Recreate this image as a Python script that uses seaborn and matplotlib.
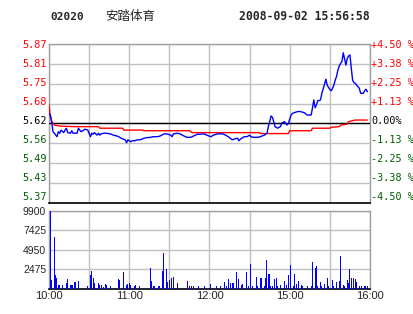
import numpy as np
import matplotlib
matplotlib.use("Agg")
import matplotlib.pyplot as plt
import seaborn as sns

# ---------------- data ----------------
code = "02020"
name = "安踏体育"
stamp = "2008-09-02 15:56:58"
prev_close = 5.62

# trading minutes after 10:00 (12:30 -> 150, then 14:30 continues at 150)
price_min = [0, 1, 2, 3, 4, 6, 7, 8, 9, 11, 12, 13, 14, 16, 17, 18, 21, 22, 23, 24,
             26, 27, 29, 31, 32, 33, 34, 36, 37, 38, 39, 41, 43, 46, 48, 51, 53, 54, 57, 58,
             59, 61, 62, 64, 66, 68, 71, 73, 76, 78, 81, 83, 86, 88, 91, 92, 93, 96, 98, 101,
             103, 106, 108, 111, 113, 116, 118, 121, 123, 126, 128, 130, 132, 134, 137, 138, 141, 142, 143, 146,
             148, 150, 151, 153, 156, 158, 161, 163, 164, 165, 166, 167, 168, 169, 171, 172, 173, 174, 176, 177,
             178, 179, 181, 182, 183, 186, 188, 191, 193, 196, 197, 198, 199, 200, 201, 202, 203, 204, 205, 206,
             207, 208, 209, 210, 211, 212, 213, 214, 215, 216, 217, 218, 219, 220, 221, 222, 223, 224, 225, 226,
             227, 228, 229, 230, 231, 232, 233, 234, 235, 236, 237, 238]
price = [5.652, 5.647, 5.626, 5.594, 5.589, 5.578, 5.594, 5.589, 5.599, 5.591, 5.599, 5.605, 5.591, 5.589, 5.597, 5.589, 5.589, 5.605, 5.599, 5.594,
         5.599, 5.602, 5.599, 5.578, 5.589, 5.586, 5.591, 5.583, 5.589, 5.583, 5.587, 5.589, 5.589, 5.587, 5.583, 5.580, 5.576, 5.573, 5.568, 5.559,
         5.568, 5.562, 5.565, 5.565, 5.568, 5.568, 5.573, 5.575, 5.576, 5.578, 5.578, 5.580, 5.587, 5.587, 5.583, 5.578, 5.587, 5.589, 5.587, 5.580,
         5.576, 5.576, 5.580, 5.586, 5.586, 5.587, 5.583, 5.578, 5.583, 5.587, 5.587, 5.587, 5.583, 5.578, 5.568, 5.570, 5.573, 5.565, 5.570, 5.578,
         5.578, 5.583, 5.578, 5.576, 5.576, 5.578, 5.583, 5.589, 5.610, 5.626, 5.644, 5.640, 5.626, 5.610, 5.605, 5.608, 5.610, 5.621, 5.626, 5.621,
         5.615, 5.621, 5.647, 5.652, 5.654, 5.658, 5.658, 5.654, 5.647, 5.647, 5.670, 5.695, 5.670, 5.680, 5.693, 5.693, 5.695, 5.716, 5.730, 5.745,
         5.761, 5.742, 5.735, 5.728, 5.724, 5.732, 5.742, 5.758, 5.770, 5.790, 5.803, 5.811, 5.817, 5.845, 5.825, 5.806, 5.827, 5.835, 5.838, 5.796,
         5.758, 5.750, 5.748, 5.742, 5.737, 5.732, 5.716, 5.716, 5.716, 5.724, 5.729, 5.721]

avg_min = [0, 1, 2, 3, 4, 8, 18, 37, 38, 55, 56, 70, 71, 105, 106, 107, 157, 158, 179, 180,
           196, 197, 202, 210, 211, 217, 218, 223, 224, 229, 238]
avg_price = [5.679, 5.642, 5.626, 5.621, 5.615, 5.612, 5.610, 5.610, 5.605, 5.605, 5.599, 5.599, 5.597, 5.597, 5.594, 5.591, 5.591, 5.588, 5.588, 5.597,
             5.597, 5.605, 5.605, 5.605, 5.608, 5.610, 5.615, 5.618, 5.626, 5.631, 5.631]

vol_min = [0, 1, 3, 4, 5, 6, 7, 9, 12, 13, 15, 16, 17, 18, 19, 21, 28, 30, 31, 32,
           33, 36, 37, 38, 40, 41, 42, 45, 51, 52, 55, 57, 58, 59, 60, 63, 64, 67, 75, 76,
           77, 78, 81, 82, 84, 85, 87, 88, 89, 91, 92, 95, 103, 104, 106, 107, 111, 115, 120, 124,
           127, 130, 132, 133, 135, 136, 137, 139, 141, 143, 144, 147, 148, 150, 151, 154, 155, 157, 158, 160,
           161, 162, 163, 164, 165, 166, 168, 169, 170, 172, 175, 177, 178, 180, 182, 183, 184, 186, 188, 189,
           192, 195, 196, 198, 199, 200, 202, 203, 205, 207, 208, 211, 212, 214, 216, 217, 219, 220, 222, 223,
           224, 225, 227, 228, 229, 231, 233, 235, 236, 237]
volume = [9900, 1065, 6600, 1700, 1280, 430, 430, 510, 640, 1190, 430, 430, 430, 770, 770, 1020, 300, 1700, 2210, 1280,
          640, 640, 430, 430, 210, 550, 430, 300, 1190, 1065, 2130, 510, 600, 680, 430, 340, 430, 300, 2640, 940,
          300, 300, 300, 300, 2260, 4560, 2510, 770, 1065, 1280, 1450, 720, 940, 300, 300, 300, 300, 300, 550, 260,
          380, 770, 300, 1230, 640, 680, 720, 2130, 1190, 470, 600, 2090, 300, 3150, 300, 1490, 300, 1360, 1360, 300,
          1360, 3660, 1870, 1870, 340, 300, 1150, 1360, 340, 430, 980, 510, 1700, 2980, 340, 1830, 550, 1020, 430, 340,
          340, 300, 3400, 2640, 2900, 340, 890, 340, 600, 1360, 340, 1110, 340, 850, 1020, 4130, 430, 340, 1110, 640,
          2510, 1360, 1280, 1190, 850, 380, 260, 260, 300, 260]

price_labels = ["5.87", "5.81", "5.75", "5.68", "5.62", "5.56", "5.49", "5.43", "5.37"]
pct_labels = ["+4.50 %", "+3.38 %", "+2.25 %", "+1.13 %", "0.00%", "-1.13 %", "-2.25 %", "-3.38 %", "-4.50 %"]
vol_ticks = [2475, 4950, 7425, 9900]
time_labels = ["10:00", "", "11:00", "", "12:00", "", "15:00", "", "16:00"]

# ---------------- style ----------------
sns.set_style("white")
plt.rcParams["font.family"] = ["DejaVu Sans", "Noto Sans CJK SC"]

W, H = 414, 314
fig = plt.figure(figsize=(W / 100, H / 100), dpi=100)
fig.patch.set_facecolor("white")

L, R = 49, 370
ax = fig.add_axes([L / W, 1 - 203 / H, (R - L) / W, 159 / H])
axv = fig.add_axes([L / W, 1 - 288.5 / H, (R - L) / W, 77.5 / H])

RED = "#ff0000"
GREEN = "#005f00"
BLUE = "#0000ff"
GRID = "#c0c0c0"
mono = "DejaVu Sans Mono"
sans = "Liberation Sans"

span = 0.045
lo, hi = prev_close * (1 - span), prev_close * (1 + span)
levels = [prev_close * (1 + span * k / 4) for k in range(4, -5, -1)]
lab_colors = [RED] * 4 + ["black"] + [GREEN] * 4

# price panel
ax.axhline(prev_close, color="black", lw=1, zorder=3)
sns.lineplot(x=avg_min, y=avg_price, ax=ax, color=RED, lw=1, estimator=None, zorder=4)
sns.lineplot(x=price_min, y=price, ax=ax, color=BLUE, lw=1, estimator=None, zorder=5)
ax.set_xlim(0, 240)
ax.set_ylim(lo, hi)
ax.set_xticks(np.arange(0, 241, 30))
ax.set_xticklabels([])
ax.set_yticks(levels)
ax.set_yticklabels([])
ax.grid(True, color=GRID, lw=1)
ax.tick_params(length=0)
ax.set_xlabel("")
ax.set_ylabel("")
for s in ["top", "left", "right"]:
    ax.spines[s].set_color("#a0a0a0")
    ax.spines[s].set_linewidth(1)
ax.spines["bottom"].set_color("black")
ax.spines["bottom"].set_linewidth(1.2)

# price / percent labels (slightly compressed spacing, as in the source)
for i, (pl, ql, c) in enumerate(zip(price_labels, pct_labels, lab_colors)):
    ypx = 45.3 + 19.0 * i
    fig.text(47 / W, 1 - ypx / H, pl, family=mono, fontsize=7.3, color=c,
             ha="right", va="center")
    fig.text(371.5 / W, 1 - ypx / H, ql, family=mono, fontsize=7.3, color=c,
             ha="left", va="center")

# volume panel
axv.bar(np.asarray(vol_min) + 0.9, volume, width=0.75, color=BLUE, lw=0,
        zorder=3, antialiased=False)
axv.set_xlim(0, 240)
axv.set_ylim(0, 9900)
axv.set_yticks(vol_ticks)
axv.set_yticklabels([str(v) for v in vol_ticks], family=sans, fontsize=7.5)
axv.set_xticks(np.arange(0, 241, 30))
axv.set_xticklabels(time_labels, family=sans, fontsize=8)
axv.grid(True, color=GRID, lw=1)
axv.tick_params(length=0, pad=2)
for s in ["top", "left", "right"]:
    axv.spines[s].set_color("#a0a0a0")
    axv.spines[s].set_linewidth(1)
axv.spines["bottom"].set_color("black")
axv.spines["bottom"].set_linewidth(1.2)

# header
fig.text(50 / W, 1 - 16.5 / H, code, family=mono, weight="bold", fontsize=8, va="center")
fig.text(105 / W, 1 - 16.5 / H, name, family=["Noto Sans CJK SC"], fontsize=9, va="center")
fig.text(370 / W, 1 - 16.5 / H, stamp, family=mono, weight="bold", fontsize=8.3, va="center", ha="right")

fig.savefig("out.png", dpi=100, facecolor="white")
